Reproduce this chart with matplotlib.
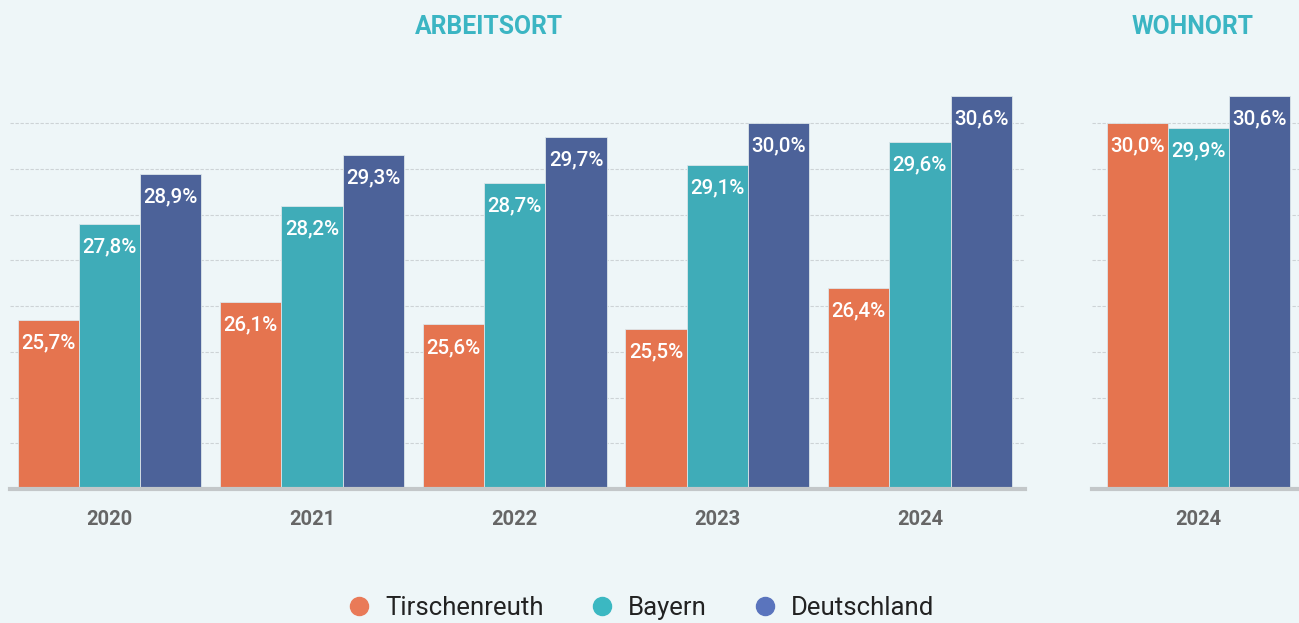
import matplotlib
matplotlib.use("Agg")
import matplotlib.pyplot as plt
from matplotlib.lines import Line2D

years = ["2020", "2021", "2022", "2023", "2024"]
series = ["Tirschenreuth", "Bayern", "Deutschland"]
arbeitsort_tir = [25.7, 26.1, 25.6, 25.5, 26.4]
arbeitsort_bay = [27.8, 28.2, 28.7, 29.1, 29.6]
arbeitsort_de = [28.9, 29.3, 29.7, 30.0, 30.6]
wohnort_years = ["2024"]
wohnort_tir = [30.0]
wohnort_bay = [29.9]
wohnort_de = [30.6]
panel_titles = ["ARBEITSORT", "WOHNORT"]

bar_colors = ["#E5744F", "#3FACB8", "#4C6299"]
legend_colors = ["#E97A58", "#3BB8C2", "#5A74BD"]
bg = "#EEF6F8"
title_color = "#3BB5C3"
font = "Roboto"

W, H = 1299, 623
fig = plt.figure(figsize=(W / 100, H / 100), dpi=100, facecolor=bg)

ybot_px, ytop_px = 489, 77.7
bottom = (H - ybot_px) / H
height = (ybot_px - ytop_px) / H
ylim = (22, 31)
unit = 202.6  # px per category
bw = 0.3026


def make_panel(x0, x1, cats, vals_list, xlim):
    ax = fig.add_axes([x0 / W, bottom, (x1 - x0) / W, height])
    ax.set_facecolor(bg)
    ax.set_xlim(*xlim)
    ax.set_ylim(*ylim)
    for s in ["top", "right", "left"]:
        ax.spines[s].set_visible(False)
    ax.spines["bottom"].set_color("#C3C7C9")
    ax.spines["bottom"].set_linewidth(3)
    ax.set_yticks(range(23, 31))
    ax.yaxis.grid(True, color="#CDD3D6", linestyle=(0, (3, 1.5)), linewidth=0.8)
    ax.set_axisbelow(True)
    ax.tick_params(axis="y", left=False, labelleft=False)
    ax.tick_params(axis="x", length=0, pad=15)
    xs = list(range(len(cats)))
    ax.set_xticks(xs)
    ax.set_xticklabels(cats, fontsize=14.5, fontweight="bold", color="#666666", family=font)
    for k, vals in enumerate(vals_list):
        pos = [x + (k - 1) * bw for x in xs]
        bars = ax.bar(pos, vals, width=bw, bottom=0, color=bar_colors[k],
                      edgecolor="#DCE6EA", linewidth=0.6, zorder=2)
        for b, v in zip(bars, vals):
            ax.annotate(f"{v:.1f}%".replace(".", ","),
                        xy=(b.get_x() + b.get_width() / 2, v),
                        xytext=(0, -16.5), textcoords="offset points",
                        ha="center", va="center", color="white",
                        fontsize=14.8, fontweight="medium", family=font, zorder=3)
    return ax


ax1 = make_panel(10, 1025, years, [arbeitsort_tir, arbeitsort_bay, arbeitsort_de],
                 ((10 - 109.5) / unit, (1025 - 109.5) / unit))
ax2 = make_panel(1092, 1299, wohnort_years, [wohnort_tir, wohnort_bay, wohnort_de],
                 ((1092 - 1198.5) / unit, (1299 - 1198.5) / unit))

fig.text(489 / W, 1 - 27 / H, panel_titles[0], ha="center", va="center",
         color=title_color, fontsize=17.8, fontweight="bold", family=font)
fig.text(1193 / W, 1 - 27 / H, panel_titles[1], ha="center", va="center",
         color=title_color, fontsize=17.8, fontweight="bold", family=font)

handles = [Line2D([], [], marker="o", linestyle="none", markersize=13,
                  markerfacecolor=c, markeredgecolor=c) for c in legend_colors]
leg = fig.legend(handles, series, loc="center", bbox_to_anchor=(638 / W, 1 - 608 / H),
                 ncol=3, frameon=False, handletextpad=0.3, columnspacing=1.58,
                 handlelength=1.4, prop={"family": font, "size": 18.5})
for t in leg.get_texts():
    t.set_color("#222222")

fig.savefig("out.png", dpi=100, facecolor=bg)
